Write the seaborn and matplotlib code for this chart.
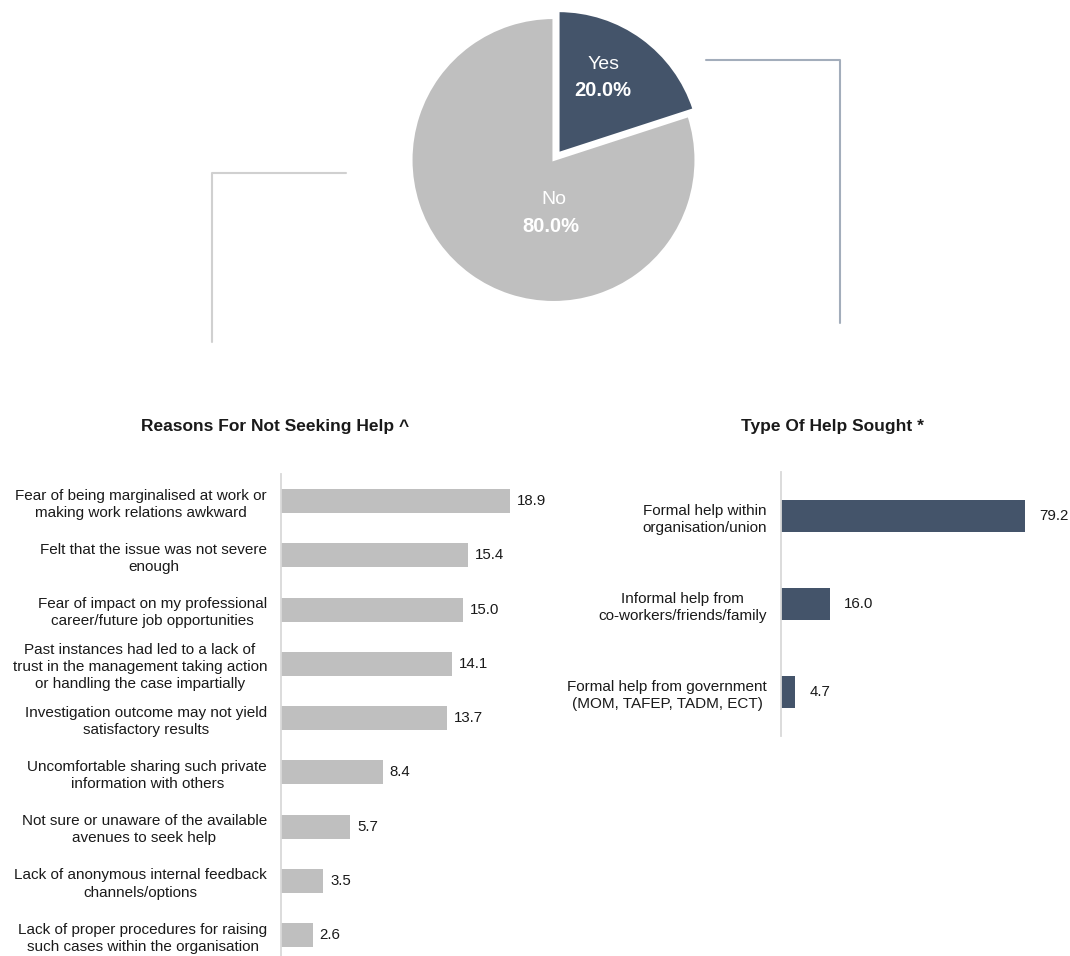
import matplotlib
matplotlib.use('Agg')
import matplotlib.pyplot as plt
from matplotlib.lines import Line2D
import seaborn as sns
import pandas as pd

sns.set_style('white')
plt.rcParams['font.family'] = ['Liberation Sans', 'DejaVu Sans']

# data
pie_labels = ['Yes', 'No']
pie_pct = [20.0, 80.0]

reasons = [
    'Fear of being marginalised at work or\nmaking work relations awkward',
    'Felt that the issue was not severe\nenough',
    'Fear of impact on my professional\ncareer/future job opportunities',
    'Past instances had led to a lack of\ntrust in the management taking action\nor handling the case impartially',
    'Investigation outcome may not yield\nsatisfactory results',
    'Uncomfortable sharing such private\ninformation with others',
    'Not sure or unaware of the available\navenues to seek help',
    'Lack of anonymous internal feedback\nchannels/options',
    'Lack of proper procedures for raising\nsuch cases within the organisation',
]
reason_pct = [18.9, 15.4, 15.0, 14.1, 13.7, 8.4, 5.7, 3.5, 2.6]

help_types = [
    'Formal help within\norganisation/union',
    'Informal help from\nco-workers/friends/family',
    'Formal help from government\n(MOM, TAFEP, TADM, ECT)',
]
help_pct = [79.2, 16.0, 4.7]

dark = '#44546a'
grey = '#bfbfbf'
ink = '#1a1a1a'

W, H = 1070, 956
fig = plt.figure(figsize=(W / 100, H / 100), dpi=100)


def box(left, top, right, bottom):
    return [left / W, 1 - bottom / H, (right - left) / W, (bottom - top) / H]


# pie
r = 142
cx, cy = 553.5, 160
half = 1.1 * r
ax_pie = fig.add_axes(box(cx - half, cy - half, cx + half, cy + half))
wedges, _ = ax_pie.pie(pie_pct, colors=[dark, grey], startangle=90, counterclock=False,
                       explode=[0.06, 0], wedgeprops=dict(edgecolor='white', linewidth=1.5))
ax_pie.set_xlim(-1.1, 1.1)
ax_pie.set_ylim(-1.1, 1.1)
ax_pie.set_aspect('equal')
ax_pie.axis('off')

# label spots (name, pct) in pie units
label_pos = {'Yes': ((0.35, 0.67), (0.35, 0.49)), 'No': ((0.0, -0.28), (-0.02, -0.47))}
for name, pct in zip(pie_labels, pie_pct):
    (nx, ny), (px, py) = label_pos[name]
    ax_pie.text(nx, ny, name, color='white', fontsize=14, ha='center', va='center')
    ax_pie.text(px, py, f'{pct:.1f}%', color='white', fontsize=14.5, fontweight='bold',
                ha='center', va='center')

# connector lines
def fline(xs, ys, color):
    fig.add_artist(Line2D([x / W for x in xs], [1 - y / H for y in ys],
                          transform=fig.transFigure, color=color, lw=1.5))

fline([346, 212, 212], [173, 173, 342], '#d0d0d0')
fline([706, 840, 840], [60, 60, 323], '#a3adbb')


def style(ax, fsize):
    sns.despine(ax=ax, top=True, right=True, bottom=True, left=False)
    ax.spines['left'].set_color('#d9d9d9')
    ax.spines['left'].set_linewidth(1.3)
    ax.set_xticks([])
    ax.set_xlabel('')
    ax.set_ylabel('')
    ax.tick_params(axis='y', length=0, pad=10, labelsize=fsize, labelcolor=ink)
    for t in ax.get_yticklabels():
        t.set_multialignment('center')
        t.set_linespacing(1.3)


# left bars
df_r = pd.DataFrame({'reason': reasons, 'pct': reason_pct})
ax_l = fig.add_axes(box(281, 474, 560, 956))
sns.barplot(data=df_r, x='pct', y='reason', orient='h', color=grey, saturation=1,
            width=0.44, linewidth=0, ax=ax_l)
ax_l.set_xlim(0, 279 / 12.116)
ax_l.set_ylim(-0.5 + 482 / 54.25, -0.5)
style(ax_l, 11)
ax_l.bar_label(ax_l.containers[0], fmt='%.1f', padding=5, fontsize=10.8, color=ink)

# right bars
df_h = pd.DataFrame({'type': help_types, 'pct': help_pct})
ax_r = fig.add_axes(box(781, 472, 1065, 736))
sns.barplot(data=df_h, x='pct', y='type', orient='h', color=dark, saturation=1,
            width=0.36, linewidth=0, ax=ax_r)
ax_r.set_xlim(0, 284 / 3.081)
ax_r.set_ylim(2.5, -0.5)
style(ax_r, 11)
ax_r.bar_label(ax_r.containers[0], fmt='%.1f', padding=10, fontsize=10.8, color=ink)

fig.text(275 / W, 1 - 427 / H, 'Reasons For Not Seeking Help ^', ha='center', va='center',
         fontsize=12.5, fontweight='bold', color=ink)
fig.text(832 / W, 1 - 427 / H, 'Type Of Help Sought *', ha='center', va='center',
         fontsize=12.5, fontweight='bold', color=ink)

fig.savefig('out.png', dpi=100)
